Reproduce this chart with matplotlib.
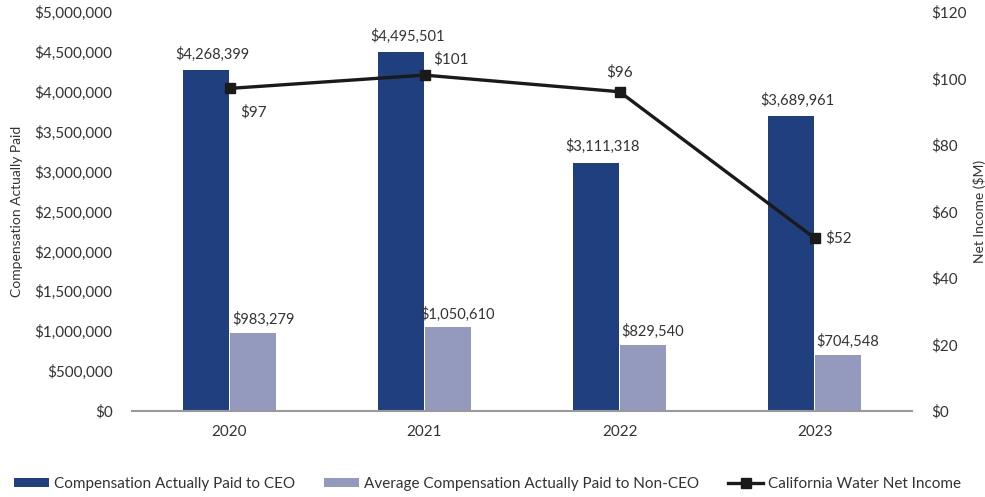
import numpy as np
import matplotlib.pyplot as plt

# 데이터
years = ['2020', '2021', '2022', '2023']
ceo_pay = [4268399, 4495501, 3111318, 3689961]
non_ceo_pay = [983279, 1050610, 829540, 704548]
net_income = [97, 101, 96, 52]

plt.rcParams['font.family'] = ['Lato', 'DejaVu Sans']

fig = plt.figure(figsize=(9.85, 4.97), dpi=100)
ax = fig.add_axes([0.134, 0.173, 0.792, 0.803])
ax2 = ax.twinx()

x = np.arange(len(years))
w = 0.236
ceo_col = '#1f3f7f'
non_col = '#9499be'
txt = '#333333'

b1 = ax.bar(x - 0.122, ceo_pay, w, color=ceo_col, label='Compensation Actually Paid to CEO', zorder=2)
b2 = ax.bar(x + 0.122, non_ceo_pay, w, color=non_col, label='Average Compensation Actually Paid to Non-CEO', zorder=2)

# 막대 위 값 표시
for xi, v in zip(x, ceo_pay):
    ax.annotate('${:,}'.format(v), (xi - 0.122, v), xytext=(5, 6), textcoords='offset points',
                ha='center', va='bottom', fontsize=10.5, color=txt)
for xi, v in zip(x, non_ceo_pay):
    ax.annotate('${:,}'.format(v), (xi + 0.122, v), xytext=(7, 4), textcoords='offset points',
                ha='center', va='bottom', fontsize=10.5, color=txt)

ax.set_xlim(-0.5, 3.5)
ax.set_ylim(0, 5000000)
ax.set_yticks(np.arange(0, 5000001, 500000))
ax.yaxis.set_major_formatter(plt.FuncFormatter(lambda v, p: '${:,.0f}'.format(v)))
ax.set_xticks(x)
ax.set_xticklabels(years)
ax.tick_params(axis='both', length=0, labelsize=11, colors=txt, pad=14)
ax.tick_params(axis='x', pad=10)
ax.set_ylabel('Compensation Actually Paid', fontsize=10, color=txt, labelpad=8)

ln, = ax2.plot(x, net_income, color='#1a1a1a', lw=2.4, marker='s', ms=7.5,
               label='California Water Net Income', zorder=3)
ax2.set_ylim(0, 120)
ax2.set_yticks(np.arange(0, 121, 20))
ax2.yaxis.set_major_formatter(plt.FuncFormatter(lambda v, p: '${:.0f}'.format(v)))
ax2.tick_params(axis='y', length=0, labelsize=11, colors=txt, pad=14)
ax2.set_ylabel('Net Income ($M)', fontsize=10, color=txt, rotation=90, labelpad=4)

offsets = [(8, -12), (6, 6), (0, 9), (8, 0)]
aligns = [('left', 'top'), ('left', 'bottom'), ('center', 'bottom'), ('left', 'center')]
for xi, v, off, al in zip(x, net_income, offsets, aligns):
    ax2.annotate('${}'.format(v), (xi, v), xytext=off, textcoords='offset points',
                 ha=al[0], va=al[1], fontsize=11, color=txt)

for a in (ax, ax2):
    for s in ['top', 'left', 'right', 'bottom']:
        a.spines[s].set_visible(False)
ax.spines['bottom'].set_visible(True)
ax.spines['bottom'].set_color('#999999')
ax.spines['bottom'].set_linewidth(1.5)

fig.legend(handles=[b1, b2, ln], loc='lower center', bbox_to_anchor=(0.495, -0.015), ncol=3,
           frameon=False, fontsize=11, handlelength=2.3, handleheight=0.5,
           columnspacing=1.9, handletextpad=0.3, labelcolor=txt)

fig.savefig('out.png', dpi=100)
